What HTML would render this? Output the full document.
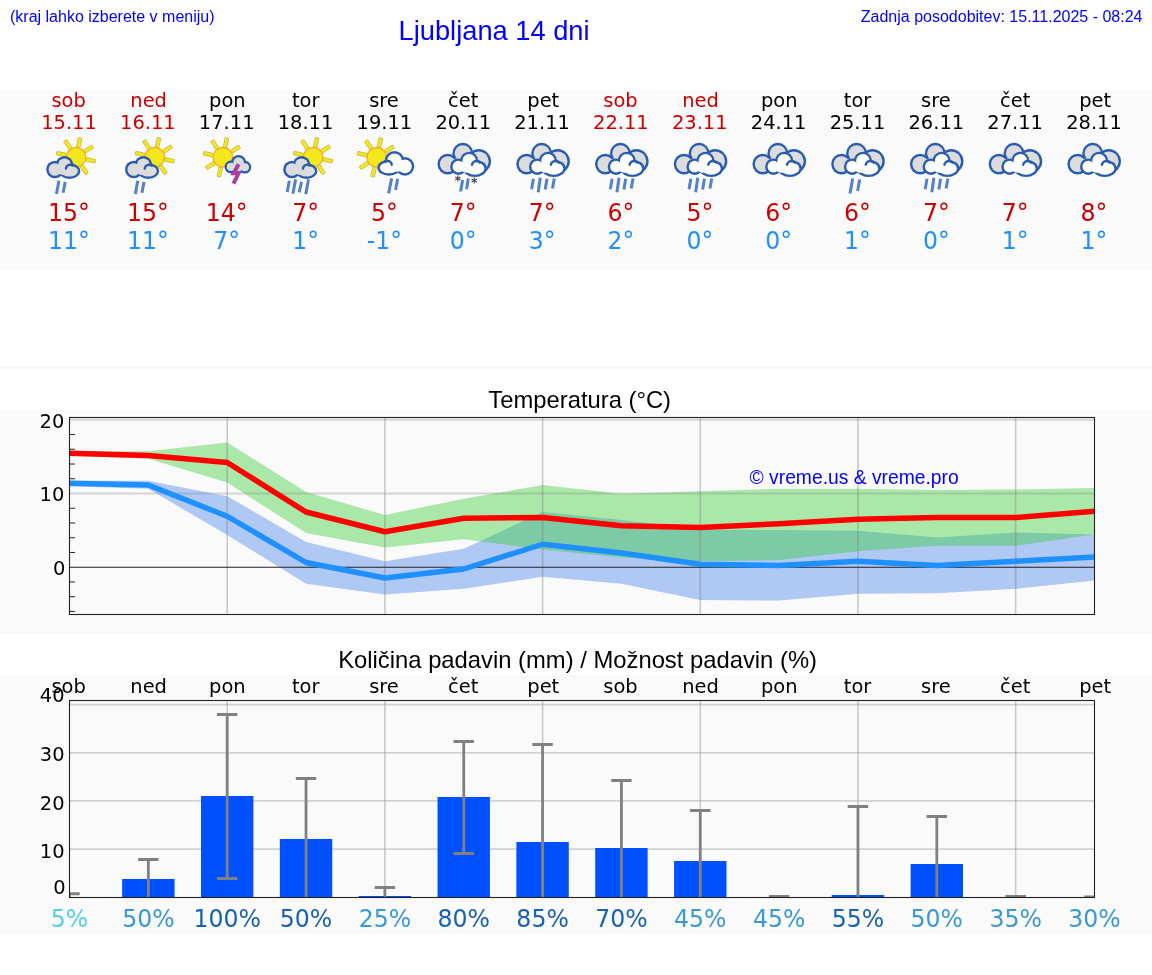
<!DOCTYPE html>
<html lang="sl"><head><meta charset="utf-8"><title>Ljubljana 14 dni</title>
<style>
html,body{margin:0;padding:0;background:#fff;}
body{width:1152px;height:975px;overflow:hidden;position:relative;}
svg{position:absolute;left:0;top:0;display:block;}
.a{font-family:"Liberation Sans",Arial,Helvetica,sans-serif;}
.d{font-family:"DejaVu Sans","Liberation Sans",sans-serif;}
text{white-space:pre;}
</style></head><body>
<svg width="1152" height="975" viewBox="0 0 1152 975" role="img" aria-label="Ljubljana 14 dni">
<g class="a" fill="#0000ff">
<text x="10" y="22" font-size="16">(kraj lahko izberete v meniju)</text>
<text x="398.6" y="39.8" font-size="27.25">Ljubljana 14 dni</text>
<text x="1142.5" y="22" font-size="16" text-anchor="end">Zadnja posodobitev: 15.11.2025 - 08:24</text>
</g>
<rect x="0" y="90" width="1152" height="180" fill="#fafafa"/>
<g class="d" text-anchor="middle">
<text x="68.6" y="106.5" font-size="19.44" fill="#cc0000">sob</text>
<text x="69" y="128.9" font-size="19.44" fill="#cc0000">15.11</text>
<text transform="translate(69 221) scale(1 1.06)" font-size="23.6" fill="#cc0000">15°</text>
<text transform="translate(69 249.2) scale(1 1.06)" font-size="23.6" fill="#1e90ff">11°</text>
<text x="148.65" y="106.5" font-size="19.44" fill="#cc0000">ned</text>
<text x="147.85" y="128.9" font-size="19.44" fill="#cc0000">16.11</text>
<text transform="translate(147.85 221) scale(1 1.06)" font-size="23.6" fill="#cc0000">15°</text>
<text transform="translate(147.85 249.2) scale(1 1.06)" font-size="23.6" fill="#1e90ff">11°</text>
<text x="227.39" y="106.5" font-size="19.44" fill="#000">pon</text>
<text x="226.69" y="128.9" font-size="19.44" fill="#000">17.11</text>
<text transform="translate(226.69 221) scale(1 1.06)" font-size="23.6" fill="#cc0000">14°</text>
<text transform="translate(226.69 249.2) scale(1 1.06)" font-size="23.6" fill="#1e90ff">7°</text>
<text x="305.64" y="106.5" font-size="19.44" fill="#000">tor</text>
<text x="305.54" y="128.9" font-size="19.44" fill="#000">18.11</text>
<text transform="translate(305.54 221) scale(1 1.06)" font-size="23.6" fill="#cc0000">7°</text>
<text transform="translate(305.54 249.2) scale(1 1.06)" font-size="23.6" fill="#1e90ff">1°</text>
<text x="383.98" y="106.5" font-size="19.44" fill="#000">sre</text>
<text x="384.38" y="128.9" font-size="19.44" fill="#000">19.11</text>
<text transform="translate(384.38 221) scale(1 1.06)" font-size="23.6" fill="#cc0000">5°</text>
<text transform="translate(384.38 249.2) scale(1 1.06)" font-size="23.6" fill="#1e90ff">-1°</text>
<text x="463.23" y="106.5" font-size="19.44" fill="#000">čet</text>
<text x="463.23" y="128.9" font-size="19.44" fill="#000">20.11</text>
<text transform="translate(463.23 221) scale(1 1.06)" font-size="23.6" fill="#cc0000">7°</text>
<text transform="translate(463.23 249.2) scale(1 1.06)" font-size="23.6" fill="#1e90ff">0°</text>
<text x="543.28" y="106.5" font-size="19.44" fill="#000">pet</text>
<text x="542.08" y="128.9" font-size="19.44" fill="#000">21.11</text>
<text transform="translate(542.08 221) scale(1 1.06)" font-size="23.6" fill="#cc0000">7°</text>
<text transform="translate(542.08 249.2) scale(1 1.06)" font-size="23.6" fill="#1e90ff">3°</text>
<text x="620.52" y="106.5" font-size="19.44" fill="#cc0000">sob</text>
<text x="620.92" y="128.9" font-size="19.44" fill="#cc0000">22.11</text>
<text transform="translate(620.92 221) scale(1 1.06)" font-size="23.6" fill="#cc0000">6°</text>
<text transform="translate(620.92 249.2) scale(1 1.06)" font-size="23.6" fill="#1e90ff">2°</text>
<text x="700.57" y="106.5" font-size="19.44" fill="#cc0000">ned</text>
<text x="699.77" y="128.9" font-size="19.44" fill="#cc0000">23.11</text>
<text transform="translate(699.77 221) scale(1 1.06)" font-size="23.6" fill="#cc0000">5°</text>
<text transform="translate(699.77 249.2) scale(1 1.06)" font-size="23.6" fill="#1e90ff">0°</text>
<text x="779.32" y="106.5" font-size="19.44" fill="#000">pon</text>
<text x="778.62" y="128.9" font-size="19.44" fill="#000">24.11</text>
<text transform="translate(778.62 221) scale(1 1.06)" font-size="23.6" fill="#cc0000">6°</text>
<text transform="translate(778.62 249.2) scale(1 1.06)" font-size="23.6" fill="#1e90ff">0°</text>
<text x="857.56" y="106.5" font-size="19.44" fill="#000">tor</text>
<text x="857.46" y="128.9" font-size="19.44" fill="#000">25.11</text>
<text transform="translate(857.46 221) scale(1 1.06)" font-size="23.6" fill="#cc0000">6°</text>
<text transform="translate(857.46 249.2) scale(1 1.06)" font-size="23.6" fill="#1e90ff">1°</text>
<text x="935.91" y="106.5" font-size="19.44" fill="#000">sre</text>
<text x="936.31" y="128.9" font-size="19.44" fill="#000">26.11</text>
<text transform="translate(936.31 221) scale(1 1.06)" font-size="23.6" fill="#cc0000">7°</text>
<text transform="translate(936.31 249.2) scale(1 1.06)" font-size="23.6" fill="#1e90ff">0°</text>
<text x="1015.15" y="106.5" font-size="19.44" fill="#000">čet</text>
<text x="1015.15" y="128.9" font-size="19.44" fill="#000">27.11</text>
<text transform="translate(1015.15 221) scale(1 1.06)" font-size="23.6" fill="#cc0000">7°</text>
<text transform="translate(1015.15 249.2) scale(1 1.06)" font-size="23.6" fill="#1e90ff">1°</text>
<text x="1095.2" y="106.5" font-size="19.44" fill="#000">pet</text>
<text x="1094" y="128.9" font-size="19.44" fill="#000">28.11</text>
<text transform="translate(1094 221) scale(1 1.06)" font-size="23.6" fill="#cc0000">8°</text>
<text transform="translate(1094 249.2) scale(1 1.06)" font-size="23.6" fill="#1e90ff">1°</text>
</g>
<g transform="translate(69 132)"><g transform="translate(7 25.2)"><rect x="10" y="-1.85" width="9.9" height="3.7" rx="0.5" transform="rotate(-168)" fill="#f3e81c" stroke="#bdb240" stroke-width="0.7"/><rect x="10" y="-1.85" width="9.9" height="3.7" rx="0.5" transform="rotate(-123)" fill="#f3e81c" stroke="#bdb240" stroke-width="0.7"/><rect x="10" y="-1.85" width="9.9" height="3.7" rx="0.5" transform="rotate(-78)" fill="#f3e81c" stroke="#bdb240" stroke-width="0.7"/><rect x="10" y="-1.85" width="9.9" height="3.7" rx="0.5" transform="rotate(-33)" fill="#f3e81c" stroke="#bdb240" stroke-width="0.7"/><rect x="10" y="-1.85" width="9.9" height="3.7" rx="0.5" transform="rotate(12)" fill="#f3e81c" stroke="#bdb240" stroke-width="0.7"/><rect x="10" y="-1.85" width="9.9" height="3.7" rx="0.5" transform="rotate(57)" fill="#f3e81c" stroke="#bdb240" stroke-width="0.7"/><rect x="10" y="-1.85" width="9.9" height="3.7" rx="0.5" transform="rotate(102)" fill="#f3e81c" stroke="#bdb240" stroke-width="0.7"/><rect x="10" y="-1.85" width="9.9" height="3.7" rx="0.5" transform="rotate(147)" fill="#f3e81c" stroke="#bdb240" stroke-width="0.7"/><circle r="9.8" fill="#f3e81c" stroke="#f6a828" stroke-width="1.3"/></g><g><ellipse cx="-14.1" cy="37.5" rx="8.7" ry="8.7" fill="#2a5cad"/><ellipse cx="-4.5" cy="32.8" rx="8.8" ry="8.8" fill="#2a5cad"/><ellipse cx="0.4" cy="39.1" rx="11" ry="7.8" fill="#2a5cad"/><ellipse cx="-14.1" cy="37.5" rx="6.3" ry="6.3" fill="#dcdcdc"/><ellipse cx="-4.5" cy="32.8" rx="6.4" ry="6.4" fill="#dcdcdc"/><ellipse cx="0.4" cy="39.1" rx="8.6" ry="5.4" fill="#dcdcdc"/><ellipse cx="-6" cy="38" rx="6.8" ry="4.8" fill="#dcdcdc"/><path d="M3.51 33.56 L2.74 33.13 L1.9 32.88 L1.03 32.8 L0.16 32.91 L-0.67 33.19 L-1.43 33.65 L-2.07 34.24 L-2.57 34.96 L-2.92 35.77 L-3.08 36.63" fill="none" stroke="#2a5cad" stroke-width="2.4" stroke-linecap="round"/></g><line x1="-10.1" y1="48.8" x2="-12.5" y2="62.1" stroke="#3d72c4" stroke-width="3" opacity="0.88" stroke-linecap="butt"/><line x1="-3.8" y1="49.9" x2="-5.9" y2="60.7" stroke="#3d72c4" stroke-width="3" opacity="0.88" stroke-linecap="butt"/></g>
<g transform="translate(147.85 132)"><g transform="translate(7 25.2)"><rect x="10" y="-1.85" width="9.9" height="3.7" rx="0.5" transform="rotate(-168)" fill="#f3e81c" stroke="#bdb240" stroke-width="0.7"/><rect x="10" y="-1.85" width="9.9" height="3.7" rx="0.5" transform="rotate(-123)" fill="#f3e81c" stroke="#bdb240" stroke-width="0.7"/><rect x="10" y="-1.85" width="9.9" height="3.7" rx="0.5" transform="rotate(-78)" fill="#f3e81c" stroke="#bdb240" stroke-width="0.7"/><rect x="10" y="-1.85" width="9.9" height="3.7" rx="0.5" transform="rotate(-33)" fill="#f3e81c" stroke="#bdb240" stroke-width="0.7"/><rect x="10" y="-1.85" width="9.9" height="3.7" rx="0.5" transform="rotate(12)" fill="#f3e81c" stroke="#bdb240" stroke-width="0.7"/><rect x="10" y="-1.85" width="9.9" height="3.7" rx="0.5" transform="rotate(57)" fill="#f3e81c" stroke="#bdb240" stroke-width="0.7"/><rect x="10" y="-1.85" width="9.9" height="3.7" rx="0.5" transform="rotate(102)" fill="#f3e81c" stroke="#bdb240" stroke-width="0.7"/><rect x="10" y="-1.85" width="9.9" height="3.7" rx="0.5" transform="rotate(147)" fill="#f3e81c" stroke="#bdb240" stroke-width="0.7"/><circle r="9.8" fill="#f3e81c" stroke="#f6a828" stroke-width="1.3"/></g><g><ellipse cx="-14.1" cy="37.5" rx="8.7" ry="8.7" fill="#2a5cad"/><ellipse cx="-4.5" cy="32.8" rx="8.8" ry="8.8" fill="#2a5cad"/><ellipse cx="0.4" cy="39.1" rx="11" ry="7.8" fill="#2a5cad"/><ellipse cx="-14.1" cy="37.5" rx="6.3" ry="6.3" fill="#dcdcdc"/><ellipse cx="-4.5" cy="32.8" rx="6.4" ry="6.4" fill="#dcdcdc"/><ellipse cx="0.4" cy="39.1" rx="8.6" ry="5.4" fill="#dcdcdc"/><ellipse cx="-6" cy="38" rx="6.8" ry="4.8" fill="#dcdcdc"/><path d="M3.51 33.56 L2.74 33.13 L1.9 32.88 L1.03 32.8 L0.16 32.91 L-0.67 33.19 L-1.43 33.65 L-2.07 34.24 L-2.57 34.96 L-2.92 35.77 L-3.08 36.63" fill="none" stroke="#2a5cad" stroke-width="2.4" stroke-linecap="round"/></g><line x1="-10.1" y1="48.8" x2="-12.5" y2="62.1" stroke="#3d72c4" stroke-width="3" opacity="0.88" stroke-linecap="butt"/><line x1="-3.8" y1="49.9" x2="-5.9" y2="60.7" stroke="#3d72c4" stroke-width="3" opacity="0.88" stroke-linecap="butt"/></g>
<g transform="translate(226.69 132)"><g transform="translate(-3.8 25.3)"><rect x="10" y="-1.85" width="9.9" height="3.7" rx="0.5" transform="rotate(-168)" fill="#f3e81c" stroke="#bdb240" stroke-width="0.7"/><rect x="10" y="-1.85" width="9.9" height="3.7" rx="0.5" transform="rotate(-123)" fill="#f3e81c" stroke="#bdb240" stroke-width="0.7"/><rect x="10" y="-1.85" width="9.9" height="3.7" rx="0.5" transform="rotate(-78)" fill="#f3e81c" stroke="#bdb240" stroke-width="0.7"/><rect x="10" y="-1.85" width="9.9" height="3.7" rx="0.5" transform="rotate(-33)" fill="#f3e81c" stroke="#bdb240" stroke-width="0.7"/><rect x="10" y="-1.85" width="9.9" height="3.7" rx="0.5" transform="rotate(12)" fill="#f3e81c" stroke="#bdb240" stroke-width="0.7"/><rect x="10" y="-1.85" width="9.9" height="3.7" rx="0.5" transform="rotate(57)" fill="#f3e81c" stroke="#bdb240" stroke-width="0.7"/><rect x="10" y="-1.85" width="9.9" height="3.7" rx="0.5" transform="rotate(102)" fill="#f3e81c" stroke="#bdb240" stroke-width="0.7"/><rect x="10" y="-1.85" width="9.9" height="3.7" rx="0.5" transform="rotate(147)" fill="#f3e81c" stroke="#bdb240" stroke-width="0.7"/><circle r="9.8" fill="#f3e81c" stroke="#f6a828" stroke-width="1.3"/></g><g><ellipse cx="4.2" cy="34.9" rx="6.35" ry="6.35" fill="#2a5cad"/><ellipse cx="11.9" cy="30.5" rx="7.55" ry="7.55" fill="#2a5cad"/><ellipse cx="18.2" cy="35.2" rx="6.35" ry="6.35" fill="#2a5cad"/><ellipse cx="11" cy="36" rx="8.15" ry="5.55" fill="#2a5cad"/><ellipse cx="4.2" cy="34.9" rx="4.05" ry="4.05" fill="#dcdcdc"/><ellipse cx="11.9" cy="30.5" rx="5.25" ry="5.25" fill="#dcdcdc"/><ellipse cx="18.2" cy="35.2" rx="4.05" ry="4.05" fill="#dcdcdc"/><ellipse cx="11" cy="36" rx="5.85" ry="3.25" fill="#dcdcdc"/></g><polyline points="11.9,32.2 7,41.3 11.9,41.3 6.7,51.6" fill="none" stroke="#a8409c" stroke-width="4" stroke-linejoin="miter"/></g>
<g transform="translate(305.54 132)"><g transform="translate(0.5 0)"><g transform="translate(7 25.2)"><rect x="10" y="-1.85" width="9.9" height="3.7" rx="0.5" transform="rotate(-168)" fill="#f3e81c" stroke="#bdb240" stroke-width="0.7"/><rect x="10" y="-1.85" width="9.9" height="3.7" rx="0.5" transform="rotate(-123)" fill="#f3e81c" stroke="#bdb240" stroke-width="0.7"/><rect x="10" y="-1.85" width="9.9" height="3.7" rx="0.5" transform="rotate(-78)" fill="#f3e81c" stroke="#bdb240" stroke-width="0.7"/><rect x="10" y="-1.85" width="9.9" height="3.7" rx="0.5" transform="rotate(-33)" fill="#f3e81c" stroke="#bdb240" stroke-width="0.7"/><rect x="10" y="-1.85" width="9.9" height="3.7" rx="0.5" transform="rotate(12)" fill="#f3e81c" stroke="#bdb240" stroke-width="0.7"/><rect x="10" y="-1.85" width="9.9" height="3.7" rx="0.5" transform="rotate(57)" fill="#f3e81c" stroke="#bdb240" stroke-width="0.7"/><rect x="10" y="-1.85" width="9.9" height="3.7" rx="0.5" transform="rotate(102)" fill="#f3e81c" stroke="#bdb240" stroke-width="0.7"/><rect x="10" y="-1.85" width="9.9" height="3.7" rx="0.5" transform="rotate(147)" fill="#f3e81c" stroke="#bdb240" stroke-width="0.7"/><circle r="9.8" fill="#f3e81c" stroke="#f6a828" stroke-width="1.3"/></g><g><ellipse cx="-14.1" cy="37.5" rx="8.7" ry="8.7" fill="#2a5cad"/><ellipse cx="-4.5" cy="32.8" rx="8.8" ry="8.8" fill="#2a5cad"/><ellipse cx="0.4" cy="39.1" rx="11" ry="7.8" fill="#2a5cad"/><ellipse cx="-14.1" cy="37.5" rx="6.3" ry="6.3" fill="#dcdcdc"/><ellipse cx="-4.5" cy="32.8" rx="6.4" ry="6.4" fill="#dcdcdc"/><ellipse cx="0.4" cy="39.1" rx="8.6" ry="5.4" fill="#dcdcdc"/><ellipse cx="-6" cy="38" rx="6.8" ry="4.8" fill="#dcdcdc"/><path d="M3.51 33.56 L2.74 33.13 L1.9 32.88 L1.03 32.8 L0.16 32.91 L-0.67 33.19 L-1.43 33.65 L-2.07 34.24 L-2.57 34.96 L-2.92 35.77 L-3.08 36.63" fill="none" stroke="#2a5cad" stroke-width="2.4" stroke-linecap="round"/></g></g><line x1="-16.2" y1="48.8" x2="-18.3" y2="60" stroke="#3d72c4" stroke-width="3" opacity="0.88" stroke-linecap="butt"/><line x1="-9.9" y1="47.4" x2="-12.7" y2="61.7" stroke="#3d72c4" stroke-width="3" opacity="0.88" stroke-linecap="butt"/><line x1="-4" y1="49.9" x2="-6.4" y2="60.3" stroke="#3d72c4" stroke-width="3" opacity="0.88" stroke-linecap="butt"/><line x1="3" y1="47.4" x2="0.2" y2="62.1" stroke="#3d72c4" stroke-width="3" opacity="0.88" stroke-linecap="butt"/></g>
<g transform="translate(384.38 132)"><g transform="translate(-7.6 25.3)"><rect x="10" y="-1.85" width="9.9" height="3.7" rx="0.5" transform="rotate(-168)" fill="#f3e81c" stroke="#bdb240" stroke-width="0.7"/><rect x="10" y="-1.85" width="9.9" height="3.7" rx="0.5" transform="rotate(-123)" fill="#f3e81c" stroke="#bdb240" stroke-width="0.7"/><rect x="10" y="-1.85" width="9.9" height="3.7" rx="0.5" transform="rotate(-78)" fill="#f3e81c" stroke="#bdb240" stroke-width="0.7"/><rect x="10" y="-1.85" width="9.9" height="3.7" rx="0.5" transform="rotate(-33)" fill="#f3e81c" stroke="#bdb240" stroke-width="0.7"/><rect x="10" y="-1.85" width="9.9" height="3.7" rx="0.5" transform="rotate(12)" fill="#f3e81c" stroke="#bdb240" stroke-width="0.7"/><rect x="10" y="-1.85" width="9.9" height="3.7" rx="0.5" transform="rotate(57)" fill="#f3e81c" stroke="#bdb240" stroke-width="0.7"/><rect x="10" y="-1.85" width="9.9" height="3.7" rx="0.5" transform="rotate(102)" fill="#f3e81c" stroke="#bdb240" stroke-width="0.7"/><rect x="10" y="-1.85" width="9.9" height="3.7" rx="0.5" transform="rotate(147)" fill="#f3e81c" stroke="#bdb240" stroke-width="0.7"/><circle r="9.8" fill="#f3e81c" stroke="#f6a828" stroke-width="1.3"/></g><g><ellipse cx="4.6" cy="35.7" rx="11.6" ry="8" fill="#2a5cad"/><ellipse cx="10.1" cy="28.6" rx="9.6" ry="9.6" fill="#2a5cad"/><ellipse cx="20.5" cy="34.4" rx="9.3" ry="9.3" fill="#2a5cad"/><ellipse cx="4.6" cy="35.7" rx="9.2" ry="5.6" fill="#fcfcfc"/><ellipse cx="10.1" cy="28.6" rx="7.2" ry="7.2" fill="#fcfcfc"/><ellipse cx="20.5" cy="34.4" rx="6.9" ry="6.9" fill="#fcfcfc"/><ellipse cx="12" cy="35" rx="7.8" ry="4.8" fill="#fcfcfc"/><path d="M0.5 29.88 L1.26 29.37 L2.11 29.04 L3.02 28.9 L3.93 28.96 L4.81 29.22 L5.61 29.66 L6.3 30.26 L6.84 31 L7.21 31.84 L7.38 32.73" fill="none" stroke="#2a5cad" stroke-width="2.4" stroke-linecap="round"/></g><line x1="7.3" y1="46.4" x2="4.2" y2="61.4" stroke="#3d72c4" stroke-width="3" opacity="0.88" stroke-linecap="butt"/><line x1="13.3" y1="46.7" x2="11.2" y2="57.9" stroke="#3d72c4" stroke-width="3" opacity="0.88" stroke-linecap="butt"/></g>
<g transform="translate(463.23 132)"><g><ellipse cx="-15.5" cy="32.1" rx="10.3" ry="10.3" fill="#2a5cad"/><ellipse cx="-0.4" cy="21.3" rx="10.5" ry="10.5" fill="#2a5cad"/><ellipse cx="15.6" cy="29.3" rx="12.2" ry="12.2" fill="#2a5cad"/><ellipse cx="-15.5" cy="32.1" rx="7.9" ry="7.9" fill="#dcdcdc"/><ellipse cx="-0.4" cy="21.3" rx="8.1" ry="8.1" fill="#dcdcdc"/><ellipse cx="15.6" cy="29.3" rx="9.8" ry="9.8" fill="#dcdcdc"/><ellipse cx="0" cy="33" rx="13.8" ry="7.8" fill="#dcdcdc"/></g><g><ellipse cx="-4.8" cy="34.7" rx="8.3" ry="8.3" fill="#2a5cad"/><ellipse cx="5.9" cy="28.9" rx="9.2" ry="9.2" fill="#2a5cad"/><ellipse cx="11.6" cy="36.4" rx="12" ry="8.7" fill="#2a5cad"/><ellipse cx="-4.8" cy="34.7" rx="5.9" ry="5.9" fill="#fcfcfc"/><ellipse cx="5.9" cy="28.9" rx="6.8" ry="6.8" fill="#fcfcfc"/><ellipse cx="11.6" cy="36.4" rx="9.6" ry="6.3" fill="#fcfcfc"/><ellipse cx="4" cy="36" rx="6.8" ry="4.8" fill="#fcfcfc"/><path d="M16.65 30.61 L15.91 29.91 L15.03 29.39 L14.06 29.08 L13.04 29 L12.04 29.15 L11.09 29.53 L10.25 30.1 L9.56 30.85 L9.06 31.74 L8.77 32.72" fill="none" stroke="#2a5cad" stroke-width="2.4" stroke-linecap="round"/></g><line x1="-0.55" y1="48.1" x2="-2.65" y2="59.6" stroke="#3d72c4" stroke-width="3" opacity="0.88" stroke-linecap="butt"/><line x1="5.05" y1="46.4" x2="3.35" y2="57.2" stroke="#3d72c4" stroke-width="3" opacity="0.88" stroke-linecap="butt"/><line x1="-5.4" y1="43.6" x2="-5.4" y2="49.6" stroke="#444" stroke-width="1.1"/><line x1="-8" y1="45.1" x2="-2.8" y2="48.1" stroke="#444" stroke-width="1.1"/><line x1="-2.8" y1="45.1" x2="-8" y2="48.1" stroke="#444" stroke-width="1.1"/><line x1="11" y1="45.6" x2="11" y2="51.6" stroke="#444" stroke-width="1.1"/><line x1="8.4" y1="47.1" x2="13.6" y2="50.1" stroke="#444" stroke-width="1.1"/><line x1="13.6" y1="47.1" x2="8.4" y2="50.1" stroke="#444" stroke-width="1.1"/></g>
<g transform="translate(542.08 132)"><g><ellipse cx="-15.5" cy="32.1" rx="10.3" ry="10.3" fill="#2a5cad"/><ellipse cx="-0.4" cy="21.3" rx="10.5" ry="10.5" fill="#2a5cad"/><ellipse cx="15.6" cy="29.3" rx="12.2" ry="12.2" fill="#2a5cad"/><ellipse cx="-15.5" cy="32.1" rx="7.9" ry="7.9" fill="#dcdcdc"/><ellipse cx="-0.4" cy="21.3" rx="8.1" ry="8.1" fill="#dcdcdc"/><ellipse cx="15.6" cy="29.3" rx="9.8" ry="9.8" fill="#dcdcdc"/><ellipse cx="0" cy="33" rx="13.8" ry="7.8" fill="#dcdcdc"/></g><g><ellipse cx="-4.8" cy="34.7" rx="8.3" ry="8.3" fill="#2a5cad"/><ellipse cx="5.9" cy="28.9" rx="9.2" ry="9.2" fill="#2a5cad"/><ellipse cx="11.6" cy="36.4" rx="12" ry="8.7" fill="#2a5cad"/><ellipse cx="-4.8" cy="34.7" rx="5.9" ry="5.9" fill="#fcfcfc"/><ellipse cx="5.9" cy="28.9" rx="6.8" ry="6.8" fill="#fcfcfc"/><ellipse cx="11.6" cy="36.4" rx="9.6" ry="6.3" fill="#fcfcfc"/><ellipse cx="4" cy="36" rx="6.8" ry="4.8" fill="#fcfcfc"/><path d="M16.65 30.61 L15.91 29.91 L15.03 29.39 L14.06 29.08 L13.04 29 L12.04 29.15 L11.09 29.53 L10.25 30.1 L9.56 30.85 L9.06 31.74 L8.77 32.72" fill="none" stroke="#2a5cad" stroke-width="2.4" stroke-linecap="round"/></g><line x1="-8.7" y1="46.7" x2="-10.5" y2="57.2" stroke="#3d72c4" stroke-width="3" opacity="0.88" stroke-linecap="butt"/><line x1="-1.8" y1="45.7" x2="-3.9" y2="60.3" stroke="#3d72c4" stroke-width="3" opacity="0.88" stroke-linecap="butt"/><line x1="4.9" y1="46.7" x2="3.1" y2="57.5" stroke="#3d72c4" stroke-width="3" opacity="0.88" stroke-linecap="butt"/><line x1="12.2" y1="46.4" x2="10.4" y2="56.5" stroke="#3d72c4" stroke-width="3" opacity="0.88" stroke-linecap="butt"/></g>
<g transform="translate(620.82 132)"><g><ellipse cx="-15.5" cy="32.1" rx="10.3" ry="10.3" fill="#2a5cad"/><ellipse cx="-0.4" cy="21.3" rx="10.5" ry="10.5" fill="#2a5cad"/><ellipse cx="15.6" cy="29.3" rx="12.2" ry="12.2" fill="#2a5cad"/><ellipse cx="-15.5" cy="32.1" rx="7.9" ry="7.9" fill="#dcdcdc"/><ellipse cx="-0.4" cy="21.3" rx="8.1" ry="8.1" fill="#dcdcdc"/><ellipse cx="15.6" cy="29.3" rx="9.8" ry="9.8" fill="#dcdcdc"/><ellipse cx="0" cy="33" rx="13.8" ry="7.8" fill="#dcdcdc"/></g><g><ellipse cx="-4.8" cy="34.7" rx="8.3" ry="8.3" fill="#2a5cad"/><ellipse cx="5.9" cy="28.9" rx="9.2" ry="9.2" fill="#2a5cad"/><ellipse cx="11.6" cy="36.4" rx="12" ry="8.7" fill="#2a5cad"/><ellipse cx="-4.8" cy="34.7" rx="5.9" ry="5.9" fill="#fcfcfc"/><ellipse cx="5.9" cy="28.9" rx="6.8" ry="6.8" fill="#fcfcfc"/><ellipse cx="11.6" cy="36.4" rx="9.6" ry="6.3" fill="#fcfcfc"/><ellipse cx="4" cy="36" rx="6.8" ry="4.8" fill="#fcfcfc"/><path d="M16.65 30.61 L15.91 29.91 L15.03 29.39 L14.06 29.08 L13.04 29 L12.04 29.15 L11.09 29.53 L10.25 30.1 L9.56 30.85 L9.06 31.74 L8.77 32.72" fill="none" stroke="#2a5cad" stroke-width="2.4" stroke-linecap="round"/></g><line x1="-8.7" y1="46.7" x2="-10.5" y2="57.2" stroke="#3d72c4" stroke-width="3" opacity="0.88" stroke-linecap="butt"/><line x1="-1.8" y1="45.7" x2="-3.9" y2="60.3" stroke="#3d72c4" stroke-width="3" opacity="0.88" stroke-linecap="butt"/><line x1="4.9" y1="46.7" x2="3.1" y2="57.5" stroke="#3d72c4" stroke-width="3" opacity="0.88" stroke-linecap="butt"/><line x1="12.2" y1="46.4" x2="10.4" y2="56.5" stroke="#3d72c4" stroke-width="3" opacity="0.88" stroke-linecap="butt"/></g>
<g transform="translate(699.54 132)"><g><ellipse cx="-15.5" cy="32.1" rx="10.3" ry="10.3" fill="#2a5cad"/><ellipse cx="-0.4" cy="21.3" rx="10.5" ry="10.5" fill="#2a5cad"/><ellipse cx="15.6" cy="29.3" rx="12.2" ry="12.2" fill="#2a5cad"/><ellipse cx="-15.5" cy="32.1" rx="7.9" ry="7.9" fill="#dcdcdc"/><ellipse cx="-0.4" cy="21.3" rx="8.1" ry="8.1" fill="#dcdcdc"/><ellipse cx="15.6" cy="29.3" rx="9.8" ry="9.8" fill="#dcdcdc"/><ellipse cx="0" cy="33" rx="13.8" ry="7.8" fill="#dcdcdc"/></g><g><ellipse cx="-4.8" cy="34.7" rx="8.3" ry="8.3" fill="#2a5cad"/><ellipse cx="5.9" cy="28.9" rx="9.2" ry="9.2" fill="#2a5cad"/><ellipse cx="11.6" cy="36.4" rx="12" ry="8.7" fill="#2a5cad"/><ellipse cx="-4.8" cy="34.7" rx="5.9" ry="5.9" fill="#fcfcfc"/><ellipse cx="5.9" cy="28.9" rx="6.8" ry="6.8" fill="#fcfcfc"/><ellipse cx="11.6" cy="36.4" rx="9.6" ry="6.3" fill="#fcfcfc"/><ellipse cx="4" cy="36" rx="6.8" ry="4.8" fill="#fcfcfc"/><path d="M16.65 30.61 L15.91 29.91 L15.03 29.39 L14.06 29.08 L13.04 29 L12.04 29.15 L11.09 29.53 L10.25 30.1 L9.56 30.85 L9.06 31.74 L8.77 32.72" fill="none" stroke="#2a5cad" stroke-width="2.4" stroke-linecap="round"/></g><line x1="-8.7" y1="46.7" x2="-10.5" y2="57.2" stroke="#3d72c4" stroke-width="3" opacity="0.88" stroke-linecap="butt"/><line x1="-1.8" y1="45.7" x2="-3.9" y2="60.3" stroke="#3d72c4" stroke-width="3" opacity="0.88" stroke-linecap="butt"/><line x1="4.9" y1="46.7" x2="3.1" y2="57.5" stroke="#3d72c4" stroke-width="3" opacity="0.88" stroke-linecap="butt"/><line x1="12.2" y1="46.4" x2="10.4" y2="56.5" stroke="#3d72c4" stroke-width="3" opacity="0.88" stroke-linecap="butt"/></g>
<g transform="translate(778.26 132)"><g><ellipse cx="-15.5" cy="32.1" rx="10.3" ry="10.3" fill="#2a5cad"/><ellipse cx="-0.4" cy="21.3" rx="10.5" ry="10.5" fill="#2a5cad"/><ellipse cx="15.6" cy="29.3" rx="12.2" ry="12.2" fill="#2a5cad"/><ellipse cx="-15.5" cy="32.1" rx="7.9" ry="7.9" fill="#dcdcdc"/><ellipse cx="-0.4" cy="21.3" rx="8.1" ry="8.1" fill="#dcdcdc"/><ellipse cx="15.6" cy="29.3" rx="9.8" ry="9.8" fill="#dcdcdc"/><ellipse cx="0" cy="33" rx="13.8" ry="7.8" fill="#dcdcdc"/></g><g><ellipse cx="-4.8" cy="34.7" rx="8.3" ry="8.3" fill="#2a5cad"/><ellipse cx="5.9" cy="28.9" rx="9.2" ry="9.2" fill="#2a5cad"/><ellipse cx="11.6" cy="36.4" rx="12" ry="8.7" fill="#2a5cad"/><ellipse cx="-4.8" cy="34.7" rx="5.9" ry="5.9" fill="#fcfcfc"/><ellipse cx="5.9" cy="28.9" rx="6.8" ry="6.8" fill="#fcfcfc"/><ellipse cx="11.6" cy="36.4" rx="9.6" ry="6.3" fill="#fcfcfc"/><ellipse cx="4" cy="36" rx="6.8" ry="4.8" fill="#fcfcfc"/><path d="M16.65 30.61 L15.91 29.91 L15.03 29.39 L14.06 29.08 L13.04 29 L12.04 29.15 L11.09 29.53 L10.25 30.1 L9.56 30.85 L9.06 31.74 L8.77 32.72" fill="none" stroke="#2a5cad" stroke-width="2.4" stroke-linecap="round"/></g></g>
<g transform="translate(856.98 132)"><g><ellipse cx="-15.5" cy="32.1" rx="10.3" ry="10.3" fill="#2a5cad"/><ellipse cx="-0.4" cy="21.3" rx="10.5" ry="10.5" fill="#2a5cad"/><ellipse cx="15.6" cy="29.3" rx="12.2" ry="12.2" fill="#2a5cad"/><ellipse cx="-15.5" cy="32.1" rx="7.9" ry="7.9" fill="#dcdcdc"/><ellipse cx="-0.4" cy="21.3" rx="8.1" ry="8.1" fill="#dcdcdc"/><ellipse cx="15.6" cy="29.3" rx="9.8" ry="9.8" fill="#dcdcdc"/><ellipse cx="0" cy="33" rx="13.8" ry="7.8" fill="#dcdcdc"/></g><g><ellipse cx="-4.8" cy="34.7" rx="8.3" ry="8.3" fill="#2a5cad"/><ellipse cx="5.9" cy="28.9" rx="9.2" ry="9.2" fill="#2a5cad"/><ellipse cx="11.6" cy="36.4" rx="12" ry="8.7" fill="#2a5cad"/><ellipse cx="-4.8" cy="34.7" rx="5.9" ry="5.9" fill="#fcfcfc"/><ellipse cx="5.9" cy="28.9" rx="6.8" ry="6.8" fill="#fcfcfc"/><ellipse cx="11.6" cy="36.4" rx="9.6" ry="6.3" fill="#fcfcfc"/><ellipse cx="4" cy="36" rx="6.8" ry="4.8" fill="#fcfcfc"/><path d="M16.65 30.61 L15.91 29.91 L15.03 29.39 L14.06 29.08 L13.04 29 L12.04 29.15 L11.09 29.53 L10.25 30.1 L9.56 30.85 L9.06 31.74 L8.77 32.72" fill="none" stroke="#2a5cad" stroke-width="2.4" stroke-linecap="round"/></g><line x1="-4.3" y1="46.4" x2="-7" y2="61.4" stroke="#3d72c4" stroke-width="3" opacity="0.88" stroke-linecap="butt"/><line x1="2.7" y1="47.4" x2="0.6" y2="58.9" stroke="#3d72c4" stroke-width="3" opacity="0.88" stroke-linecap="butt"/></g>
<g transform="translate(935.7 132)"><g><ellipse cx="-15.5" cy="32.1" rx="10.3" ry="10.3" fill="#2a5cad"/><ellipse cx="-0.4" cy="21.3" rx="10.5" ry="10.5" fill="#2a5cad"/><ellipse cx="15.6" cy="29.3" rx="12.2" ry="12.2" fill="#2a5cad"/><ellipse cx="-15.5" cy="32.1" rx="7.9" ry="7.9" fill="#dcdcdc"/><ellipse cx="-0.4" cy="21.3" rx="8.1" ry="8.1" fill="#dcdcdc"/><ellipse cx="15.6" cy="29.3" rx="9.8" ry="9.8" fill="#dcdcdc"/><ellipse cx="0" cy="33" rx="13.8" ry="7.8" fill="#dcdcdc"/></g><g><ellipse cx="-4.8" cy="34.7" rx="8.3" ry="8.3" fill="#2a5cad"/><ellipse cx="5.9" cy="28.9" rx="9.2" ry="9.2" fill="#2a5cad"/><ellipse cx="11.6" cy="36.4" rx="12" ry="8.7" fill="#2a5cad"/><ellipse cx="-4.8" cy="34.7" rx="5.9" ry="5.9" fill="#fcfcfc"/><ellipse cx="5.9" cy="28.9" rx="6.8" ry="6.8" fill="#fcfcfc"/><ellipse cx="11.6" cy="36.4" rx="9.6" ry="6.3" fill="#fcfcfc"/><ellipse cx="4" cy="36" rx="6.8" ry="4.8" fill="#fcfcfc"/><path d="M16.65 30.61 L15.91 29.91 L15.03 29.39 L14.06 29.08 L13.04 29 L12.04 29.15 L11.09 29.53 L10.25 30.1 L9.56 30.85 L9.06 31.74 L8.77 32.72" fill="none" stroke="#2a5cad" stroke-width="2.4" stroke-linecap="round"/></g><line x1="-8.7" y1="46.7" x2="-10.5" y2="57.2" stroke="#3d72c4" stroke-width="3" opacity="0.88" stroke-linecap="butt"/><line x1="-1.8" y1="45.7" x2="-3.9" y2="60.3" stroke="#3d72c4" stroke-width="3" opacity="0.88" stroke-linecap="butt"/><line x1="4.9" y1="46.7" x2="3.1" y2="57.5" stroke="#3d72c4" stroke-width="3" opacity="0.88" stroke-linecap="butt"/><line x1="12.2" y1="46.4" x2="10.4" y2="56.5" stroke="#3d72c4" stroke-width="3" opacity="0.88" stroke-linecap="butt"/></g>
<g transform="translate(1014.42 132)"><g><ellipse cx="-15.5" cy="32.1" rx="10.3" ry="10.3" fill="#2a5cad"/><ellipse cx="-0.4" cy="21.3" rx="10.5" ry="10.5" fill="#2a5cad"/><ellipse cx="15.6" cy="29.3" rx="12.2" ry="12.2" fill="#2a5cad"/><ellipse cx="-15.5" cy="32.1" rx="7.9" ry="7.9" fill="#dcdcdc"/><ellipse cx="-0.4" cy="21.3" rx="8.1" ry="8.1" fill="#dcdcdc"/><ellipse cx="15.6" cy="29.3" rx="9.8" ry="9.8" fill="#dcdcdc"/><ellipse cx="0" cy="33" rx="13.8" ry="7.8" fill="#dcdcdc"/></g><g><ellipse cx="-4.8" cy="34.7" rx="8.3" ry="8.3" fill="#2a5cad"/><ellipse cx="5.9" cy="28.9" rx="9.2" ry="9.2" fill="#2a5cad"/><ellipse cx="11.6" cy="36.4" rx="12" ry="8.7" fill="#2a5cad"/><ellipse cx="-4.8" cy="34.7" rx="5.9" ry="5.9" fill="#fcfcfc"/><ellipse cx="5.9" cy="28.9" rx="6.8" ry="6.8" fill="#fcfcfc"/><ellipse cx="11.6" cy="36.4" rx="9.6" ry="6.3" fill="#fcfcfc"/><ellipse cx="4" cy="36" rx="6.8" ry="4.8" fill="#fcfcfc"/><path d="M16.65 30.61 L15.91 29.91 L15.03 29.39 L14.06 29.08 L13.04 29 L12.04 29.15 L11.09 29.53 L10.25 30.1 L9.56 30.85 L9.06 31.74 L8.77 32.72" fill="none" stroke="#2a5cad" stroke-width="2.4" stroke-linecap="round"/></g></g>
<g transform="translate(1093.14 132)"><g><ellipse cx="-15.5" cy="32.1" rx="10.3" ry="10.3" fill="#2a5cad"/><ellipse cx="-0.4" cy="21.3" rx="10.5" ry="10.5" fill="#2a5cad"/><ellipse cx="15.6" cy="29.3" rx="12.2" ry="12.2" fill="#2a5cad"/><ellipse cx="-15.5" cy="32.1" rx="7.9" ry="7.9" fill="#dcdcdc"/><ellipse cx="-0.4" cy="21.3" rx="8.1" ry="8.1" fill="#dcdcdc"/><ellipse cx="15.6" cy="29.3" rx="9.8" ry="9.8" fill="#dcdcdc"/><ellipse cx="0" cy="33" rx="13.8" ry="7.8" fill="#dcdcdc"/></g><g><ellipse cx="-4.8" cy="34.7" rx="8.3" ry="8.3" fill="#2a5cad"/><ellipse cx="5.9" cy="28.9" rx="9.2" ry="9.2" fill="#2a5cad"/><ellipse cx="11.6" cy="36.4" rx="12" ry="8.7" fill="#2a5cad"/><ellipse cx="-4.8" cy="34.7" rx="5.9" ry="5.9" fill="#fcfcfc"/><ellipse cx="5.9" cy="28.9" rx="6.8" ry="6.8" fill="#fcfcfc"/><ellipse cx="11.6" cy="36.4" rx="9.6" ry="6.3" fill="#fcfcfc"/><ellipse cx="4" cy="36" rx="6.8" ry="4.8" fill="#fcfcfc"/><path d="M16.65 30.61 L15.91 29.91 L15.03 29.39 L14.06 29.08 L13.04 29 L12.04 29.15 L11.09 29.53 L10.25 30.1 L9.56 30.85 L9.06 31.74 L8.77 32.72" fill="none" stroke="#2a5cad" stroke-width="2.4" stroke-linecap="round"/></g></g>
<rect x="0" y="365" width="1152" height="5" fill="#fafafa"/>
<rect x="0" y="410" width="1152" height="225" fill="#fafafa"/>
<clipPath id="ct"><rect x="69.5" y="417.5" width="1025" height="197"/></clipPath>
<g clip-path="url(#ct)">
<polygon points="69.5,480.75 148.35,480.75 227.19,496.25 306.04,542 384.88,561.25 463.73,548.75 542.58,512 621.42,520 700.27,529.5 779.12,530 857.96,530.75 936.81,537.5 1015.65,532.5 1094.5,534.5 1094.5,580.5 1015.65,588.75 936.81,593.25 857.96,593.75 779.12,600.5 700.27,600 621.42,583.75 542.58,576.75 463.73,588.75 384.88,594.5 306.04,583.75 227.19,535 148.35,488.75 69.5,486.25" fill="#6495ed" fill-opacity="0.5"/>
<polygon points="69.5,451.25 148.35,451.25 227.19,442.5 306.04,492 384.88,515 463.73,498.75 542.58,485 621.42,493.75 700.27,491.25 779.12,488.75 857.96,488.75 936.81,490 1015.65,489.5 1094.5,488 1094.5,534.5 1015.65,545.75 936.81,545.75 857.96,551.25 779.12,560 700.27,561.25 621.42,557.5 542.58,549.5 463.73,539.25 384.88,547.5 306.04,533 227.19,482.5 148.35,458.75 69.5,455.75" fill="#32cd32" fill-opacity="0.4"/>
<line x1="227.19" y1="417.5" x2="227.19" y2="614.5" stroke="#808080" stroke-opacity="0.4" stroke-width="1.6"/>
<line x1="384.88" y1="417.5" x2="384.88" y2="614.5" stroke="#808080" stroke-opacity="0.4" stroke-width="1.6"/>
<line x1="542.58" y1="417.5" x2="542.58" y2="614.5" stroke="#808080" stroke-opacity="0.4" stroke-width="1.6"/>
<line x1="700.27" y1="417.5" x2="700.27" y2="614.5" stroke="#808080" stroke-opacity="0.4" stroke-width="1.6"/>
<line x1="857.96" y1="417.5" x2="857.96" y2="614.5" stroke="#808080" stroke-opacity="0.4" stroke-width="1.6"/>
<line x1="1015.65" y1="417.5" x2="1015.65" y2="614.5" stroke="#808080" stroke-opacity="0.4" stroke-width="1.6"/>
<line x1="69.5" y1="419.8" x2="1094.5" y2="419.8" stroke="#808080" stroke-opacity="0.3" stroke-width="2"/>
<line x1="69.5" y1="493.6" x2="1094.5" y2="493.6" stroke="#808080" stroke-opacity="0.3" stroke-width="2"/>
<line x1="69.5" y1="567.2" x2="1094.5" y2="567.2" stroke="#222" stroke-width="1.1"/>
<polyline points="69.5,483.25 148.35,485 227.19,516.25 306.04,562.5 384.88,578 463.73,569 542.58,544.25 621.42,553 700.27,564.25 779.12,565.5 857.96,561.25 936.81,565.5 1015.65,561.25 1094.5,557" fill="none" stroke="#1e90ff" stroke-width="5.5" stroke-linejoin="round"/>
<polyline points="69.5,453.25 148.35,455.5 227.19,462.5 306.04,512 384.88,531.75 463.73,518.25 542.58,517.5 621.42,525.75 700.27,527.5 779.12,523.75 857.96,519.25 936.81,517.5 1015.65,517.5 1094.5,511.25" fill="none" stroke="#ff0000" stroke-width="5.5" stroke-linejoin="round"/>
</g>
<line x1="69.5" y1="611.42" x2="75" y2="611.42" stroke="#222" stroke-width="1"/>
<line x1="69.5" y1="596.68" x2="75" y2="596.68" stroke="#222" stroke-width="1"/>
<line x1="69.5" y1="581.94" x2="75" y2="581.94" stroke="#222" stroke-width="1"/>
<line x1="69.5" y1="552.46" x2="75" y2="552.46" stroke="#222" stroke-width="1"/>
<line x1="69.5" y1="537.72" x2="75" y2="537.72" stroke="#222" stroke-width="1"/>
<line x1="69.5" y1="522.98" x2="75" y2="522.98" stroke="#222" stroke-width="1"/>
<line x1="69.5" y1="508.24" x2="75" y2="508.24" stroke="#222" stroke-width="1"/>
<line x1="69.5" y1="478.76" x2="75" y2="478.76" stroke="#222" stroke-width="1"/>
<line x1="69.5" y1="464.02" x2="75" y2="464.02" stroke="#222" stroke-width="1"/>
<line x1="69.5" y1="449.28" x2="75" y2="449.28" stroke="#222" stroke-width="1"/>
<line x1="69.5" y1="434.54" x2="75" y2="434.54" stroke="#222" stroke-width="1"/>
<rect x="69.5" y="417.5" width="1025" height="197" fill="none" stroke="#222" stroke-width="1.1"/>
<g class="d" font-size="19.44" text-anchor="end" fill="#000">
<text x="64.3" y="427.9">20</text><text x="64.3" y="501.4">10</text><text x="65.4" y="574.7">0</text>
</g>
<text class="a" x="488.3" y="407.8" font-size="23.8" fill="#000">Temperatura (°C)</text>
<text class="a" x="749.5" y="483.9" font-size="19.3" fill="#0000ff">© vreme.us &amp; vreme.pro</text>
<rect x="0" y="675" width="1152" height="260" fill="#fafafa"/>
<text class="a" x="338.2" y="668.2" font-size="23.8" fill="#000">Količina padavin (mm) / Možnost padavin (%)</text>
<g class="d" font-size="19.44" text-anchor="middle" fill="#000">
<text x="68.6" y="692.6">sob</text>
<text x="148.65" y="692.6">ned</text>
<text x="227.39" y="692.6">pon</text>
<text x="305.64" y="692.6">tor</text>
<text x="383.98" y="692.6">sre</text>
<text x="463.23" y="692.6">čet</text>
<text x="543.28" y="692.6">pet</text>
<text x="620.52" y="692.6">sob</text>
<text x="700.57" y="692.6">ned</text>
<text x="779.32" y="692.6">pon</text>
<text x="857.56" y="692.6">tor</text>
<text x="935.91" y="692.6">sre</text>
<text x="1015.15" y="692.6">čet</text>
<text x="1095.2" y="692.6">pet</text>
</g>
<clipPath id="cp"><rect x="69.5" y="700.5" width="1025" height="197"/></clipPath>
<g clip-path="url(#cp)">
<line x1="227.19" y1="700.5" x2="227.19" y2="897.5" stroke="#808080" stroke-opacity="0.4" stroke-width="1.6"/>
<line x1="384.88" y1="700.5" x2="384.88" y2="897.5" stroke="#808080" stroke-opacity="0.4" stroke-width="1.6"/>
<line x1="542.58" y1="700.5" x2="542.58" y2="897.5" stroke="#808080" stroke-opacity="0.4" stroke-width="1.6"/>
<line x1="700.27" y1="700.5" x2="700.27" y2="897.5" stroke="#808080" stroke-opacity="0.4" stroke-width="1.6"/>
<line x1="857.96" y1="700.5" x2="857.96" y2="897.5" stroke="#808080" stroke-opacity="0.4" stroke-width="1.6"/>
<line x1="1015.65" y1="700.5" x2="1015.65" y2="897.5" stroke="#808080" stroke-opacity="0.4" stroke-width="1.6"/>
<line x1="69.5" y1="704.7" x2="1094.5" y2="704.7" stroke="#808080" stroke-opacity="0.32" stroke-width="1.8"/>
<line x1="69.5" y1="752.9" x2="1094.5" y2="752.9" stroke="#808080" stroke-opacity="0.32" stroke-width="1.8"/>
<line x1="69.5" y1="800.9" x2="1094.5" y2="800.9" stroke="#808080" stroke-opacity="0.32" stroke-width="1.8"/>
<line x1="69.5" y1="849.1" x2="1094.5" y2="849.1" stroke="#808080" stroke-opacity="0.32" stroke-width="1.8"/>
<rect x="122.15" y="879" width="52.4" height="18.5" fill="#0050ff"/>
<rect x="200.99" y="796" width="52.4" height="101.5" fill="#0050ff"/>
<rect x="279.84" y="839" width="52.4" height="58.5" fill="#0050ff"/>
<rect x="358.68" y="896" width="52.4" height="1.5" fill="#0050ff"/>
<rect x="437.53" y="797" width="52.4" height="100.5" fill="#0050ff"/>
<rect x="516.38" y="842" width="52.4" height="55.5" fill="#0050ff"/>
<rect x="595.22" y="848" width="52.4" height="49.5" fill="#0050ff"/>
<rect x="674.07" y="861" width="52.4" height="36.5" fill="#0050ff"/>
<rect x="831.76" y="895" width="52.4" height="2.5" fill="#0050ff"/>
<rect x="910.61" y="864" width="52.4" height="33.5" fill="#0050ff"/>
<line x1="69.5" y1="893.75" x2="69.5" y2="900.5" stroke="#808080" stroke-width="2.8"/>
<line x1="59.3" y1="893.75" x2="79.7" y2="893.75" stroke="#808080" stroke-width="2.8"/>
<line x1="148.35" y1="859.5" x2="148.35" y2="900.5" stroke="#808080" stroke-width="2.8"/>
<line x1="138.15" y1="859.5" x2="158.55" y2="859.5" stroke="#808080" stroke-width="2.8"/>
<line x1="227.19" y1="714.5" x2="227.19" y2="878.5" stroke="#808080" stroke-width="2.8"/>
<line x1="216.99" y1="714.5" x2="237.39" y2="714.5" stroke="#808080" stroke-width="2.8"/>
<line x1="216.99" y1="878.5" x2="237.39" y2="878.5" stroke="#808080" stroke-width="2.8"/>
<line x1="306.04" y1="778.5" x2="306.04" y2="900.5" stroke="#808080" stroke-width="2.8"/>
<line x1="295.84" y1="778.5" x2="316.24" y2="778.5" stroke="#808080" stroke-width="2.8"/>
<line x1="384.88" y1="887.5" x2="384.88" y2="900.5" stroke="#808080" stroke-width="2.8"/>
<line x1="374.68" y1="887.5" x2="395.08" y2="887.5" stroke="#808080" stroke-width="2.8"/>
<line x1="463.73" y1="741.5" x2="463.73" y2="853.5" stroke="#808080" stroke-width="2.8"/>
<line x1="453.53" y1="741.5" x2="473.93" y2="741.5" stroke="#808080" stroke-width="2.8"/>
<line x1="453.53" y1="853.5" x2="473.93" y2="853.5" stroke="#808080" stroke-width="2.8"/>
<line x1="542.58" y1="744.5" x2="542.58" y2="900.5" stroke="#808080" stroke-width="2.8"/>
<line x1="532.38" y1="744.5" x2="552.78" y2="744.5" stroke="#808080" stroke-width="2.8"/>
<line x1="621.42" y1="780.5" x2="621.42" y2="900.5" stroke="#808080" stroke-width="2.8"/>
<line x1="611.22" y1="780.5" x2="631.62" y2="780.5" stroke="#808080" stroke-width="2.8"/>
<line x1="700.27" y1="810.5" x2="700.27" y2="900.5" stroke="#808080" stroke-width="2.8"/>
<line x1="690.07" y1="810.5" x2="710.47" y2="810.5" stroke="#808080" stroke-width="2.8"/>
<line x1="779.12" y1="896.5" x2="779.12" y2="900.5" stroke="#808080" stroke-width="2.8"/>
<line x1="768.92" y1="896.5" x2="789.32" y2="896.5" stroke="#808080" stroke-width="2.8"/>
<line x1="857.96" y1="806.5" x2="857.96" y2="900.5" stroke="#808080" stroke-width="2.8"/>
<line x1="847.76" y1="806.5" x2="868.16" y2="806.5" stroke="#808080" stroke-width="2.8"/>
<line x1="936.81" y1="816.5" x2="936.81" y2="900.5" stroke="#808080" stroke-width="2.8"/>
<line x1="926.61" y1="816.5" x2="947.01" y2="816.5" stroke="#808080" stroke-width="2.8"/>
<line x1="1015.65" y1="896.5" x2="1015.65" y2="900.5" stroke="#808080" stroke-width="2.8"/>
<line x1="1005.45" y1="896.5" x2="1025.85" y2="896.5" stroke="#808080" stroke-width="2.8"/>
<line x1="1094.5" y1="896.8" x2="1094.5" y2="900.5" stroke="#808080" stroke-width="2.8"/>
<line x1="1084.3" y1="896.8" x2="1104.7" y2="896.8" stroke="#808080" stroke-width="2.8"/>
</g>
<rect x="69.5" y="700.5" width="1025" height="197" fill="none" stroke="#222" stroke-width="1.1"/>
<g class="d" font-size="19.44" text-anchor="end" fill="#000">
<text x="64.6" y="701.7">40</text><text x="64.6" y="761.4">30</text><text x="64.6" y="809.8">20</text><text x="64.6" y="857.7">10</text><text x="65.6" y="893.5">0</text>
</g>
<g class="d" font-size="23.6" text-anchor="middle">
<text transform="translate(69.5 926.9) scale(1 1.04)" fill="#56d0e2">5%</text>
<text transform="translate(148.35 926.9) scale(1 1.04)" fill="#3a98d4">50%</text>
<text transform="translate(227.19 926.9) scale(1 1.04)" fill="#1961b5">100%</text>
<text transform="translate(306.04 926.9) scale(1 1.04)" fill="#1961b5">50%</text>
<text transform="translate(384.88 926.9) scale(1 1.04)" fill="#3a98d4">25%</text>
<text transform="translate(463.73 926.9) scale(1 1.04)" fill="#1961b5">80%</text>
<text transform="translate(542.58 926.9) scale(1 1.04)" fill="#1961b5">85%</text>
<text transform="translate(621.42 926.9) scale(1 1.04)" fill="#1961b5">70%</text>
<text transform="translate(700.27 926.9) scale(1 1.04)" fill="#3a98d4">45%</text>
<text transform="translate(779.12 926.9) scale(1 1.04)" fill="#3a98d4">45%</text>
<text transform="translate(857.96 926.9) scale(1 1.04)" fill="#1961b5">55%</text>
<text transform="translate(936.81 926.9) scale(1 1.04)" fill="#3a98d4">50%</text>
<text transform="translate(1015.65 926.9) scale(1 1.04)" fill="#3a98d4">35%</text>
<text transform="translate(1094.5 926.9) scale(1 1.04)" fill="#3a98d4">30%</text>
</g>
</svg>
</body></html>
